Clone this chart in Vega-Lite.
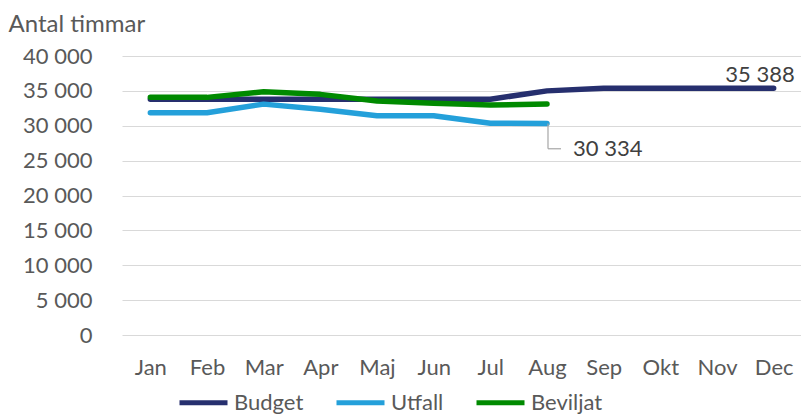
{
  "$schema": "https://vega.github.io/schema/vega-lite/v6.json",
  "autosize": {"type": "none"},
  "width": 680,
  "height": 279,
  "padding": {"left": 122, "top": 56, "right": 0, "bottom": 79},
  "background": "white",
  "config": {
    "locale": {"number": {"decimal": ",", "thousands": " ", "grouping": [3], "currency": ["", " kr"]}},
    "font": "Lato",
    "view": {"stroke": null},
    "axis": {"labelFont": "Lato", "labelColor": "#595959", "labelFontSize": 22, "titleFont": "Lato", "titleColor": "#595959", "labelOverlap": false},
    "legend": {"labelFont": "Lato", "labelColor": "#595959", "labelFontSize": 22}
  },
  "datasets": {
    "series": [
      {"month": "Jan", "serie": "Budget", "value": 33800},
      {"month": "Feb", "serie": "Budget", "value": 33800},
      {"month": "Mar", "serie": "Budget", "value": 33800},
      {"month": "Apr", "serie": "Budget", "value": 33800},
      {"month": "Maj", "serie": "Budget", "value": 33800},
      {"month": "Jun", "serie": "Budget", "value": 33800},
      {"month": "Jul", "serie": "Budget", "value": 33800},
      {"month": "Aug", "serie": "Budget", "value": 35000},
      {"month": "Sep", "serie": "Budget", "value": 35388},
      {"month": "Okt", "serie": "Budget", "value": 35388},
      {"month": "Nov", "serie": "Budget", "value": 35388},
      {"month": "Dec", "serie": "Budget", "value": 35388},
      {"month": "Jan", "serie": "Utfall", "value": 31870},
      {"month": "Feb", "serie": "Utfall", "value": 31870},
      {"month": "Mar", "serie": "Utfall", "value": 33100},
      {"month": "Apr", "serie": "Utfall", "value": 32350},
      {"month": "Maj", "serie": "Utfall", "value": 31440},
      {"month": "Jun", "serie": "Utfall", "value": 31440},
      {"month": "Jul", "serie": "Utfall", "value": 30350},
      {"month": "Aug", "serie": "Utfall", "value": 30334},
      {"month": "Jan", "serie": "Beviljat", "value": 34070},
      {"month": "Feb", "serie": "Beviljat", "value": 34070},
      {"month": "Mar", "serie": "Beviljat", "value": 34880},
      {"month": "Apr", "serie": "Beviljat", "value": 34500},
      {"month": "Maj", "serie": "Beviljat", "value": 33550},
      {"month": "Jun", "serie": "Beviljat", "value": 33220},
      {"month": "Jul", "serie": "Beviljat", "value": 32970},
      {"month": "Aug", "serie": "Beviljat", "value": 33120}
    ],
    "labels": [
      {"month": "Dec", "value": 35388, "lab": 35388, "end": 35388, "lead": false},
      {"month": "Aug", "value": 30334, "lab": 30334, "end": 26700, "lead": true}
    ]
  },
  "encoding": {
    "x": {"field": "month", "type": "ordinal", "sort": ["Jan","Feb","Mar","Apr","Maj","Jun","Jul","Aug","Sep","Okt","Nov","Dec"],
          "scale": {"type": "point", "padding": 0.5},
          "axis": {"title": null, "domain": false, "ticks": false, "labelAngle": 0, "labelPadding": 22, "grid": false}},
    "y": {"field": "value", "type": "quantitative", "scale": {"domain": [0, 40000]},
          "axis": {"title": "Antal timmar", "titleAngle": 0, "titleAlign": "left", "titleBaseline": "alphabetic", "titleX": -114, "titleY": -25, "titleFontSize": 24, "titleFontWeight": "normal",
                   "values": [0,5000,10000,15000,20000,25000,30000,35000,40000], "format": ",d",
                   "domain": false, "ticks": false, "labelPadding": 30, "gridColor": "#d9d9d9", "gridWidth": 1.2}}
  },
  "layer": [
    {
      "data": {"name": "series"},
      "mark": {"type": "line", "strokeWidth": 5.5, "strokeCap": "round", "strokeJoin": "round", "interpolate": "linear"},
      "encoding": {
        "color": {"field": "serie", "type": "nominal",
                  "scale": {"domain": ["Budget","Utfall","Beviljat"], "range": ["#262f6e","#24a0da","#008a00"]},
                  "legend": {"title": null, "orient": "none", "legendX": 55, "legendY": 320, "direction": "horizontal", "symbolType": "stroke", "symbolSize": 2304, "symbolStrokeWidth": 5, "columnPadding": 22, "labelOffset": 4}},
        "order": {"field": "serie"}
      }
    },
    {
      "data": {"name": "labels"},
      "transform": [{"filter": "datum.lead"}],
      "mark": {"type": "rule", "color": "#a6a6a6", "strokeWidth": 1.2, "xOffset": 1},
      "encoding": {
        "y2": {"field": "end"}
      }
    },
    {
      "data": {"name": "labels"},
      "transform": [{"filter": "datum.lead"}],
      "mark": {"type": "rule", "color": "#a6a6a6", "strokeWidth": 1.2, "xOffset": 1, "x2Offset": 14, "yOffset": 0},
      "encoding": {
        "x2": {"field": "month"},
        "y": {"field": "end", "type": "quantitative"}
      }
    },
    {
      "data": {"name": "labels"},
      "transform": [{"filter": "!datum.lead"}],
      "mark": {"type": "text", "align": "right", "baseline": "alphabetic", "dx": 21, "dy": -6, "fontSize": 22, "color": "#404040", "font": "Lato"},
      "encoding": {
        "text": {"field": "lab", "type": "quantitative", "format": ",d"}
      }
    },
    {
      "data": {"name": "labels"},
      "transform": [{"filter": "datum.lead"}],
      "mark": {"type": "text", "align": "left", "baseline": "middle", "dx": 26, "fontSize": 22, "color": "#404040", "font": "Lato"},
      "encoding": {
        "y": {"field": "end", "type": "quantitative"},
        "text": {"field": "lab", "type": "quantitative", "format": ",d"}
      }
    }
  ]
}
